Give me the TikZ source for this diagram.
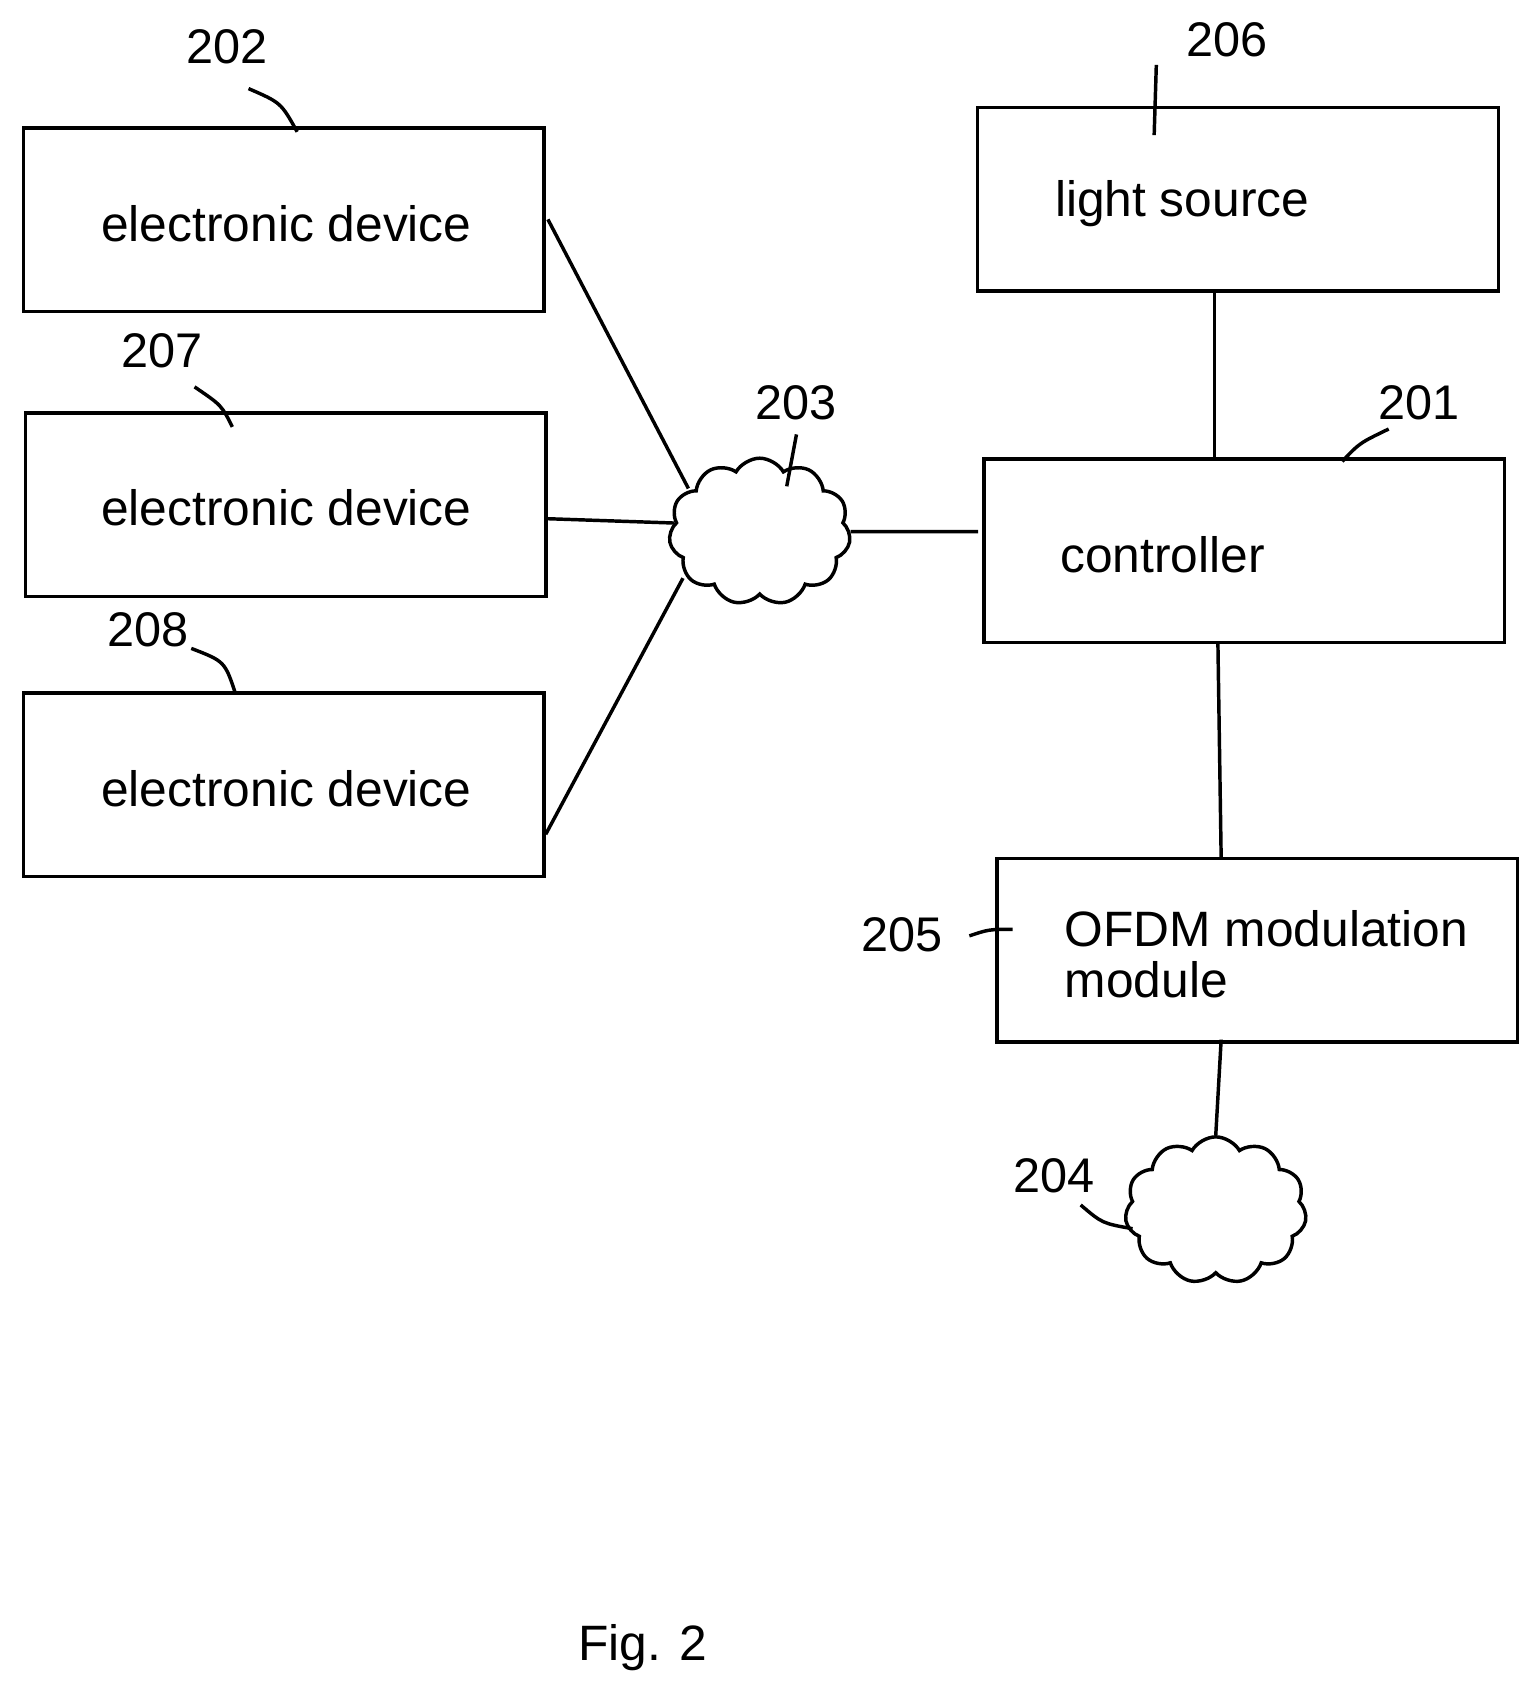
\documentclass[tikz,border=0pt]{standalone}
\usepackage{fontspec}
\setmainfont{Liberation Sans}
\usetikzlibrary{shapes.symbols}
\begin{document}
\begin{tikzpicture}[x=0.5pt,y=-0.5pt,line width=1.6pt,
  box/.style={draw,rectangle,minimum width=240.9pt,minimum height=84.9pt,inner sep=0pt},
  lbl/.style={font=\fontsize{22.5}{26}\selectfont},
  txt/.style={font=\fontsize{23}{24}\selectfont},
  cl/.style={draw,cloud,cloud puffs=11,cloud puff arc=120,aspect=1.25,minimum width=84pt,minimum height=68pt,inner sep=0pt}]
\useasboundingbox (0,0) rectangle (1420,1562);
\node[box] (b202) at (262.5,203.5) {};
\node[box] (b207) at (264.5,467) {};
\node[box] (b208) at (262.5,726) {};
\node[box] (b206) at (1145.5,184.5) {};
\node[box] (b201) at (1151.5,509.5) {};
\node[box] (b205) at (1163.5,879.5) {};
\node[txt] (t202) at (265,207) {electronic device};
\node[txt] (t207) at (265,470) {electronic device};
\node[txt] (t208) at (265,730) {electronic device};
\node[txt,anchor=west] (t206) at (968,188) {light source};
\node[txt,anchor=west] (t201) at (973,513) {controller};
\node[txt,anchor=west,align=left] (t205) at (977,883) {OFDM modulation\\module};
\node[cl] (c203) at (703,492) {};
\node[cl] (c204) at (1125,1120) {};
\node[txt] (fig) at (595,1525) {Fig. 2};
\coordinate (p202) at (507,203);
\coordinate (p207) at (507,480);
\coordinate (p208) at (505,772);
\coordinate (p201) at (905,492);
\draw (p202) -- (637,452);
\draw (p207) -- (624,484);
\draw (p208) -- (632,535);
\draw (c203.east) -- (p201);
\draw (1124,271) -- (1124,423);
\draw (1127,596) -- (1130,794);
\draw (1130,962) -- (c204.north);
\node[lbl] (l202) at (210,43) {202};
\node[lbl] (l207) at (150,325) {207};
\node[lbl] (l208) at (137,583) {208};
\node[lbl] (l203) at (737,373) {203};
\node[lbl] (l206) at (1135,37) {206};
\node[lbl] (l201) at (1313,373) {201};
\node[lbl] (l205) at (835,865) {205};
\node[lbl] (l204) at (975,1088) {204};
\draw (230,82) .. controls (260,95) .. (275,122);
\draw (180,358) .. controls (205,375) .. (215,395);
\draw (177,600) .. controls (208,612) .. (218,642);
\draw (737,402) -- (728,450);
\draw (1070,60) -- (1068,125);
\draw (1285,397) .. controls (1258,410) .. (1242,427);
\draw (897,866) .. controls (915,860) .. (937,860);
\draw (1000,1115) .. controls (1020,1132) .. (1048,1137);
\end{tikzpicture}
\end{document}
